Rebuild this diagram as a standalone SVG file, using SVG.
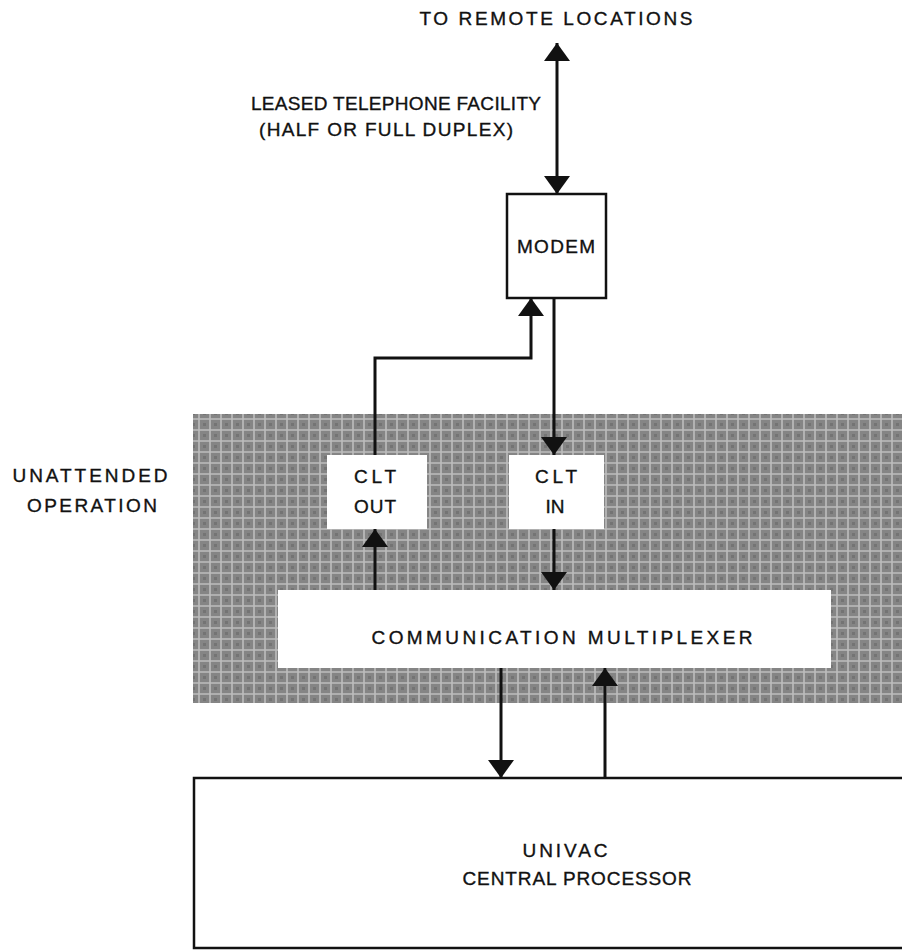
<svg xmlns="http://www.w3.org/2000/svg" width="902" height="951" viewBox="0 0 902 951">
<style>
text{font-family:"Liberation Sans",Arial,sans-serif;font-size:19px;fill:#111;stroke:#111;stroke-width:0.35;text-anchor:middle}
.box{fill:#fff;stroke:#111;stroke-width:2.5}
.wbox{fill:#fff;stroke:none}
.ln{fill:none;stroke:#111;stroke-width:3;marker-end:url(#ah)}
</style>
<defs>
<marker id="ah" markerUnits="userSpaceOnUse" markerWidth="20" markerHeight="28" refX="18" refY="13" orient="auto-start-reverse" viewBox="0 0 20 28">
<path d="M0,0 L18,13 L0,26 z" fill="#111"/>
</marker>
<pattern id="tex" patternUnits="userSpaceOnUse" width="11" height="11">
<rect width="11" height="11" fill="#858585"/>
<path d="M0,1 H11 M1,0 V11" stroke="#bdbdbd" stroke-width="1.6"/>
<rect x="5" y="5" width="3" height="3" fill="#747474"/>
</pattern>
</defs>

<g id="shaded-area">
<rect x="193" y="414" width="709" height="289" fill="url(#tex)"/>
</g>

<g id="label-remote"><text x="556" y="25" textLength="273" lengthAdjust="spacing">TO REMOTE LOCATIONS</text></g>
<g id="label-leased">
<text x="396" y="110" textLength="290" lengthAdjust="spacing">LEASED TELEPHONE FACILITY</text>
<text x="386" y="136" textLength="254" lengthAdjust="spacing">(HALF OR FULL DUPLEX)</text>
</g>
<g id="label-unattended">
<text x="90" y="482" textLength="155" lengthAdjust="spacing">UNATTENDED</text>
<text x="92" y="512" textLength="130" lengthAdjust="spacing">OPERATION</text>
</g>

<g id="modem">
<rect class="box" x="507" y="194" width="99" height="104"/>
<text x="556" y="253" textLength="78" lengthAdjust="spacing">MODEM</text>
</g>

<g id="clt-out">
<rect class="wbox" x="327" y="455" width="100" height="74"/>
<text x="375" y="483" textLength="42" lengthAdjust="spacing">CLT</text>
<text x="375" y="513" textLength="42" lengthAdjust="spacing">OUT</text>
</g>

<g id="clt-in">
<rect class="wbox" x="509" y="455" width="95" height="74"/>
<text x="556" y="483" textLength="42" lengthAdjust="spacing">CLT</text>
<text x="555" y="513">IN</text>
</g>

<g id="multiplexer">
<rect class="wbox" x="278" y="590" width="553" height="78"/>
<text x="562" y="644" textLength="381" lengthAdjust="spacing">COMMUNICATION  MULTIPLEXER</text>
</g>

<g id="processor">
<rect class="box" x="194" y="778" width="720" height="170"/>
<text x="565" y="857" textLength="85" lengthAdjust="spacing">UNIVAC</text>
<text x="577" y="885" textLength="229" lengthAdjust="spacing">CENTRAL PROCESSOR</text>
</g>

<g id="connectors">
<path class="ln" d="M557,43 V194" style="marker-start:url(#ah)"/>
<path class="ln" d="M375,455 V358 H531 V298"/>
<path class="ln" d="M554,298 V455"/>
<path class="ln" d="M554,529 V590"/>
<path class="ln" d="M375,590 V529"/>
<path class="ln" d="M501,668 V778"/>
<path class="ln" d="M605,778 V668"/>
</g>
</svg>
